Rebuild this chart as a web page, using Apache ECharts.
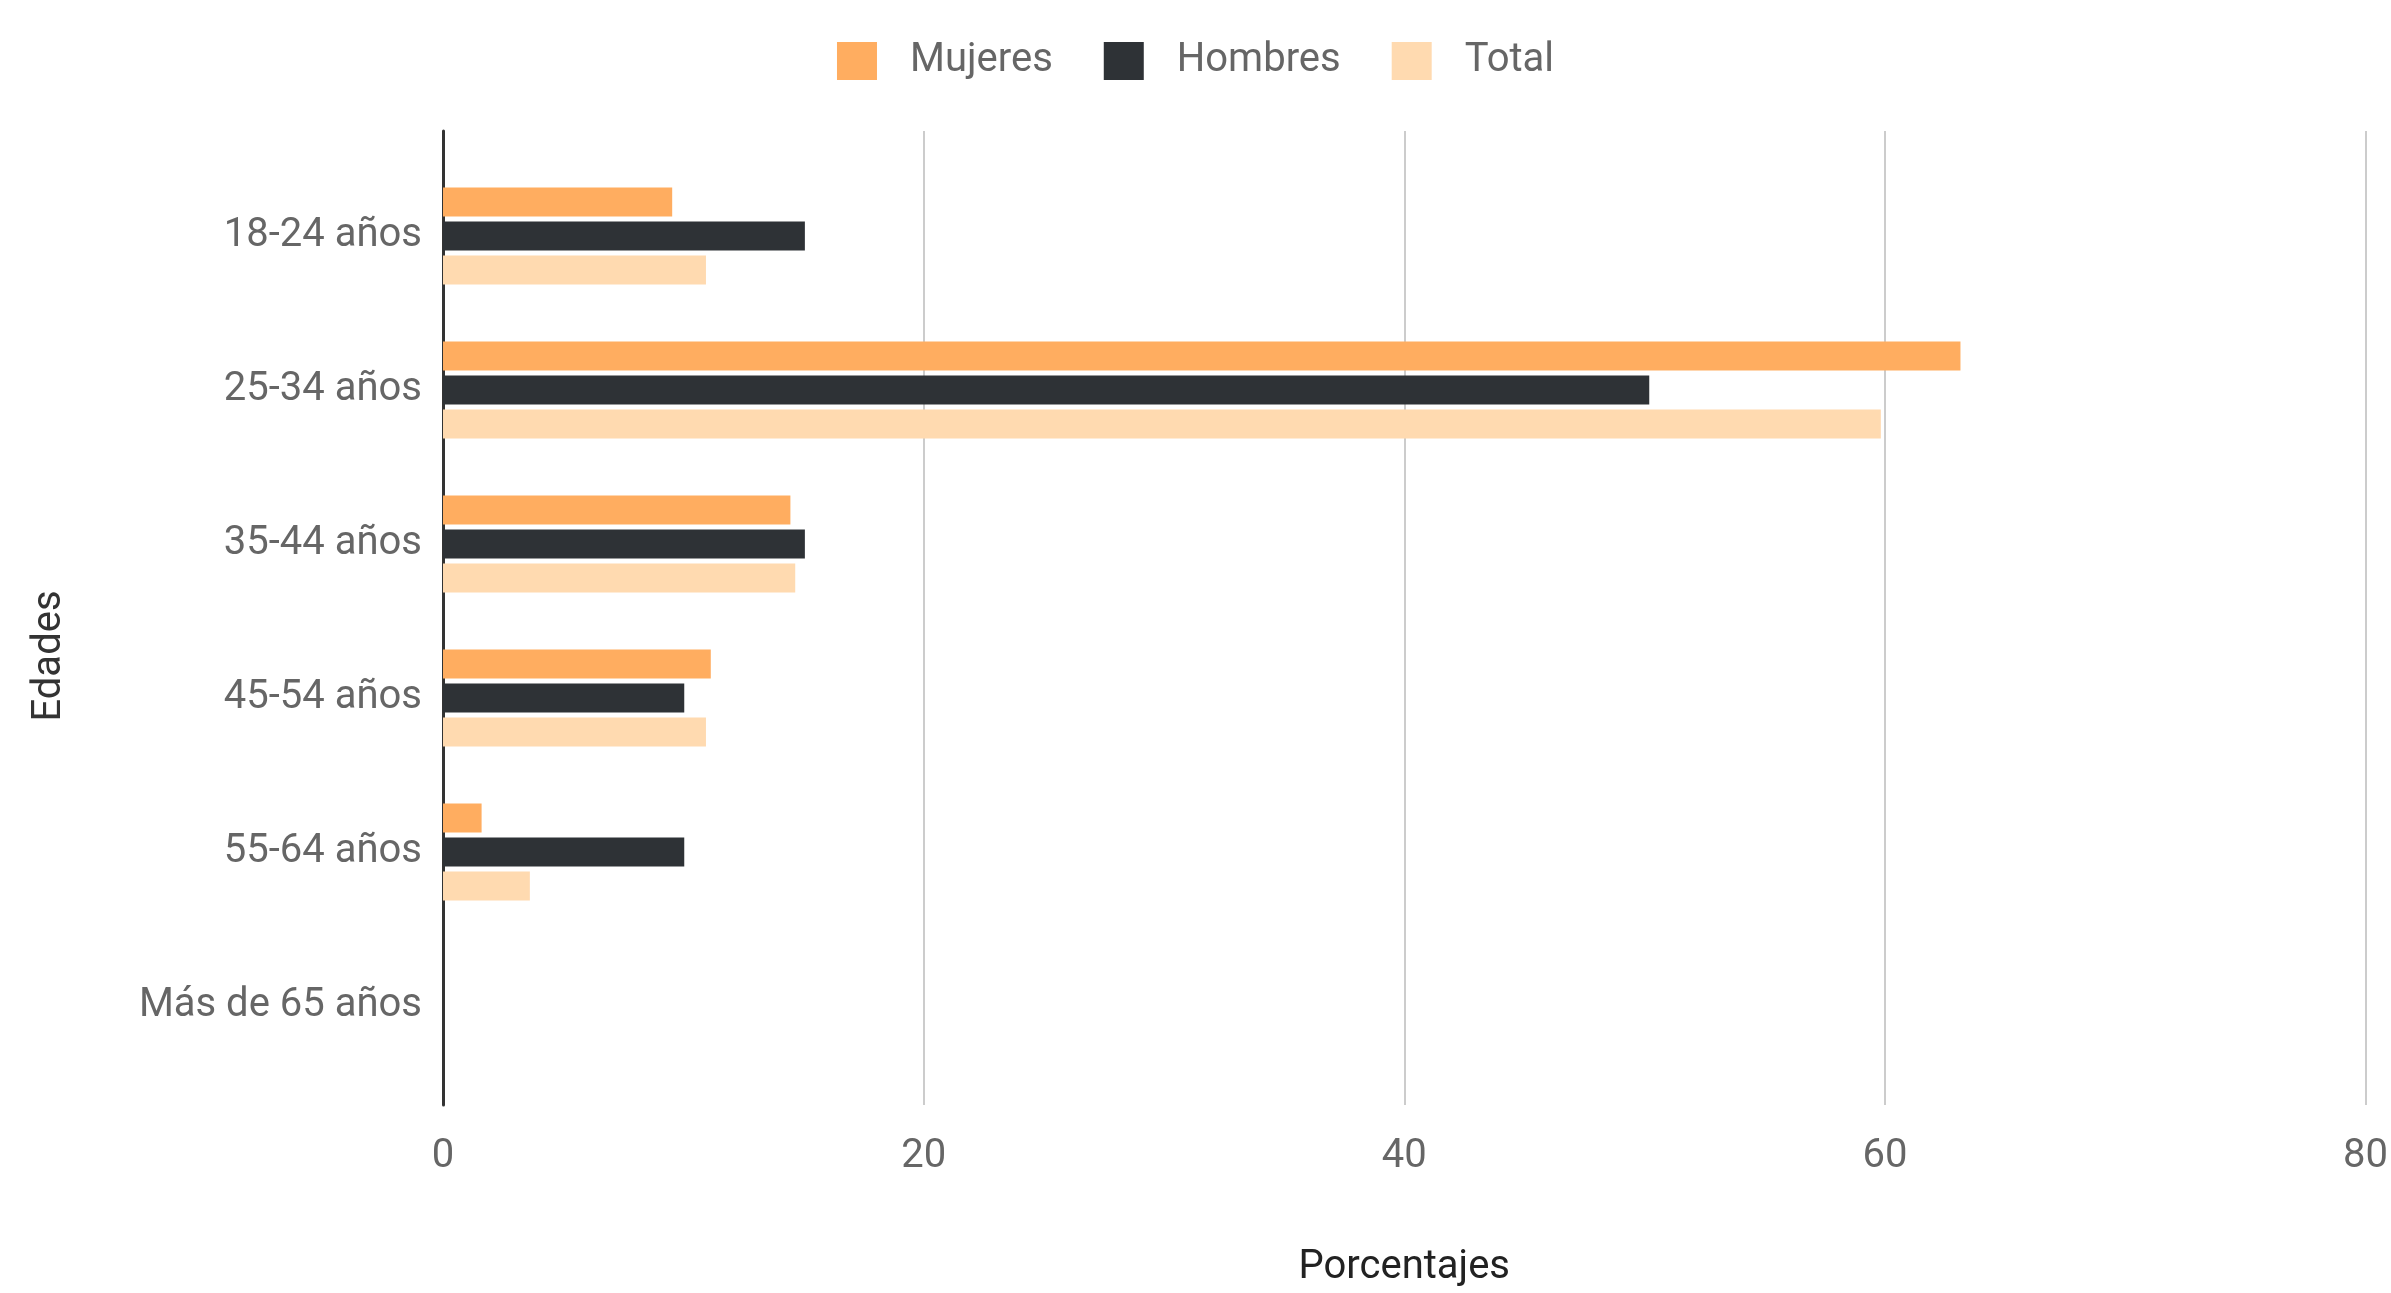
<!DOCTYPE html>
<html>
<head>
<meta charset="utf-8">
<script src="https://cdn.jsdelivr.net/npm/echarts@6/dist/echarts.min.js"></script>
<style>
html,body{margin:0;padding:0;background:#fff;}
#chart{width:2391px;height:1293px;}
</style>
</head>
<body>
<div id="chart"></div>
<script>
const categories = ['18-24 años', '25-34 años', '35-44 años', '45-54 años', '55-64 años', 'Más de 65 años'];
const mujeres = [9.5, 62.9, 14.4, 11.1, 1.6, 0];
const hombres = [15, 50, 15, 10, 10, 0];
const total = [10.9, 59.6, 14.6, 10.9, 3.6, 0];
const xTicks = [0, 20, 40, 60, 80];

const FONT = 'Roboto';
const chart = echarts.init(document.getElementById('chart'));
const barCommon = { type: 'bar', xAxisIndex: 1, yAxisIndex: 1, barWidth: 29, barGap: '17%' };
chart.setOption({
  animation: false,
  textStyle: { fontFamily: FONT },
  color: ['#FFAD60', '#2E3236', '#FFDAB0'],
  legend: {
    top: 36, left: 'center',
    itemWidth: 40, itemHeight: 38, itemGap: 51,
    icon: 'rect',
    textStyle: { fontSize: 40, color: '#666', fontFamily: FONT, padding: [0, 0, 0, 28] },
    data: ['Mujeres', 'Hombres', 'Total']
  },
  grid: [
    { left: 443, right: 18, top: 131, bottom: 180 },
    { left: 443, right: 18, top: 159, bottom: 210 }
  ],
  xAxis: [
    {
      gridIndex: 0, type: 'value', min: xTicks[0], max: xTicks[xTicks.length - 1],
      interval: xTicks[1] - xTicks[0],
      axisLine: { show: false }, axisTick: { show: false },
      splitLine: { show: true, lineStyle: { color: '#CCCCCC', width: 2 } },
      axisLabel: { fontSize: 40, color: '#666', margin: 32, fontFamily: FONT },
      name: 'Porcentajes', nameLocation: 'middle', nameGap: 143,
      nameTextStyle: { fontSize: 40, color: '#222', fontFamily: FONT }
    },
    {
      gridIndex: 1, type: 'value', min: xTicks[0], max: xTicks[xTicks.length - 1],
      show: false
    }
  ],
  yAxis: [
    {
      gridIndex: 0, type: 'category', data: categories, inverse: true,
      axisLine: { show: true, lineStyle: { color: '#333', width: 3 } },
      axisTick: { show: false }, axisLabel: { show: false }, splitLine: { show: false }
    },
    {
      gridIndex: 1, type: 'category', data: categories, inverse: true,
      axisLine: { show: false }, axisTick: { show: false },
      axisLabel: { fontSize: 40, color: '#666', margin: 21, fontFamily: FONT, padding: [12, 0, 0, 0] }
    }
  ],
  graphic: [
    {
      type: 'text', x: 50, y: 656, rotation: Math.PI / 2,
      style: { text: 'Edades', fontSize: 40, fill: '#333', fontFamily: FONT, align: 'center', verticalAlign: 'middle' }
    }
  ],
  series: [
    Object.assign({ name: 'Mujeres', data: mujeres }, barCommon),
    Object.assign({ name: 'Hombres', data: hombres }, barCommon),
    Object.assign({ name: 'Total', data: total }, barCommon)
  ]
});
</script>
</body>
</html>
